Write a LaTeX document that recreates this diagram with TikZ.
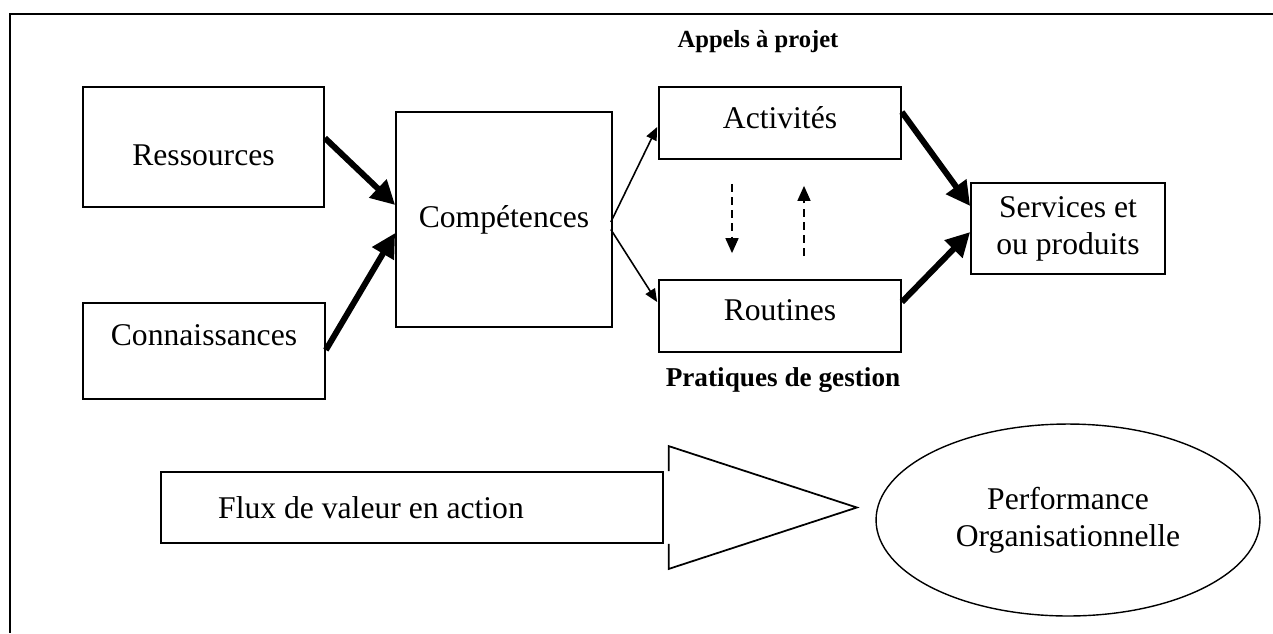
\documentclass[tikz,border=0pt]{standalone}
\usepackage{fontspec}
\setmainfont{Liberation Serif}
\usetikzlibrary{calc}
\usetikzlibrary{arrows.meta}
\usetikzlibrary{shapes.geometric}
\newcommand{\boxfont}{\fontsize{18}{21}\selectfont}
\newcommand{\tagfont}{\fontsize{14}{16}\selectfont\bfseries}

\begin{document}
\begin{tikzpicture}[x=0.02cm,y=-0.02cm,
		box/.style={rectangle,draw,line width=1pt,font=\boxfont,align=center,inner sep=2pt},
		oval/.style={ellipse,draw,line width=0.8pt,font=\boxfont,align=center,minimum width=7.68cm,minimum height=3.84cm},
		tag/.style={font=\tagfont,inner sep=0pt},
		thickarr/.style={line width=3.4pt,-{Triangle[length=0.48cm,width=0.48cm]}},
		thinarr/.style={line width=0.9pt,-{Triangle[length=0.26cm,width=0.22cm]}},
		dasharr/.style={line width=0.9pt,dash pattern=on 4.5pt off 3pt,-{Triangle[length=0.3cm,width=0.26cm]}}
		]
		\useasboundingbox (0,0) rectangle (1273,633);
		\draw[line width=1pt] (1273,14) -- (10,14) -- (10,633);
		
		\node (ress) [box,minimum width=4.82cm,minimum height=2.4cm,text height=0.74cm] at (203.5,147) {Ressources};
		\node (conn) [box,minimum width=4.84cm,minimum height=1.92cm,text depth=0.64cm] at (204,351) {Connaissances};
		\node (comp) [box,minimum width=4.32cm,minimum height=4.3cm] at (504,219.5) {Compétences};
		\node (act) [box,minimum width=4.84cm,minimum height=1.44cm,text depth=0.24cm] at (780,123) {Activités};
		\node (rout) [box,minimum width=4.84cm,minimum height=1.44cm,text depth=0.24cm] at (780,316) {Routines};
		\node (serv) [box,minimum width=3.88cm,minimum height=1.82cm] at (1068,228.5) {Services et\\ou produits};
		\node (appels) [tag] at (758,42) {Appels à projet};
		\node (prat) [tag,font=\fontsize{15.5}{18}\selectfont\bfseries] at (783,380) {Pratiques de gestion};
		
		\draw[thickarr] ($(ress.east)+(0,-9)$) -- ($(comp.west)+(0,-14.5)$);
		\draw[thickarr] ($(conn.east)+(0,-1)$) -- ($(comp.west)+(0,13.5)$);
		\draw[thinarr] ($(comp.east)+(-2,2.5)$) -- ($(act.west)+(-1,4)$);
		\draw[thinarr] ($(comp.east)+(-2,10)$) -- ($(rout.west)+(-1,-14)$);
		\draw[dasharr] ($(act.south)+(-48,24)$) -- ($(rout.north)+(-48,-26)$);
		\draw[dasharr] ($(rout.north)+(24,-23)$) -- ($(act.south)+(24,26)$);
		\draw[thickarr] ($(act.east)+(0,-11)$) -- ($(serv.west)+(0,-22.5)$);
		\draw[thickarr] ($(rout.east)+(0,-14)$) -- ($(serv.west)+(0,3.5)$);
		
		\node (flux) [box,minimum width=10.04cm,minimum height=1.42cm] at (412,507.5) {};
		\node (fluxtxt) [font=\boxfont] at ($(flux.center)+(-41,0)$) {Flux de valeur en action};
		\draw[line width=1pt] ($(flux.north east)+(5,0)$) -- ++(0,-25) -- ($(flux.east)+(193,0)$)
			-- ($(flux.south east)+(5,25)$) -- ($(flux.south east)+(5,0)$);
		\node (perf) [oval] at (1068,520) {Performance\\Organisationnelle};
		
\end{tikzpicture}
\end{document}
